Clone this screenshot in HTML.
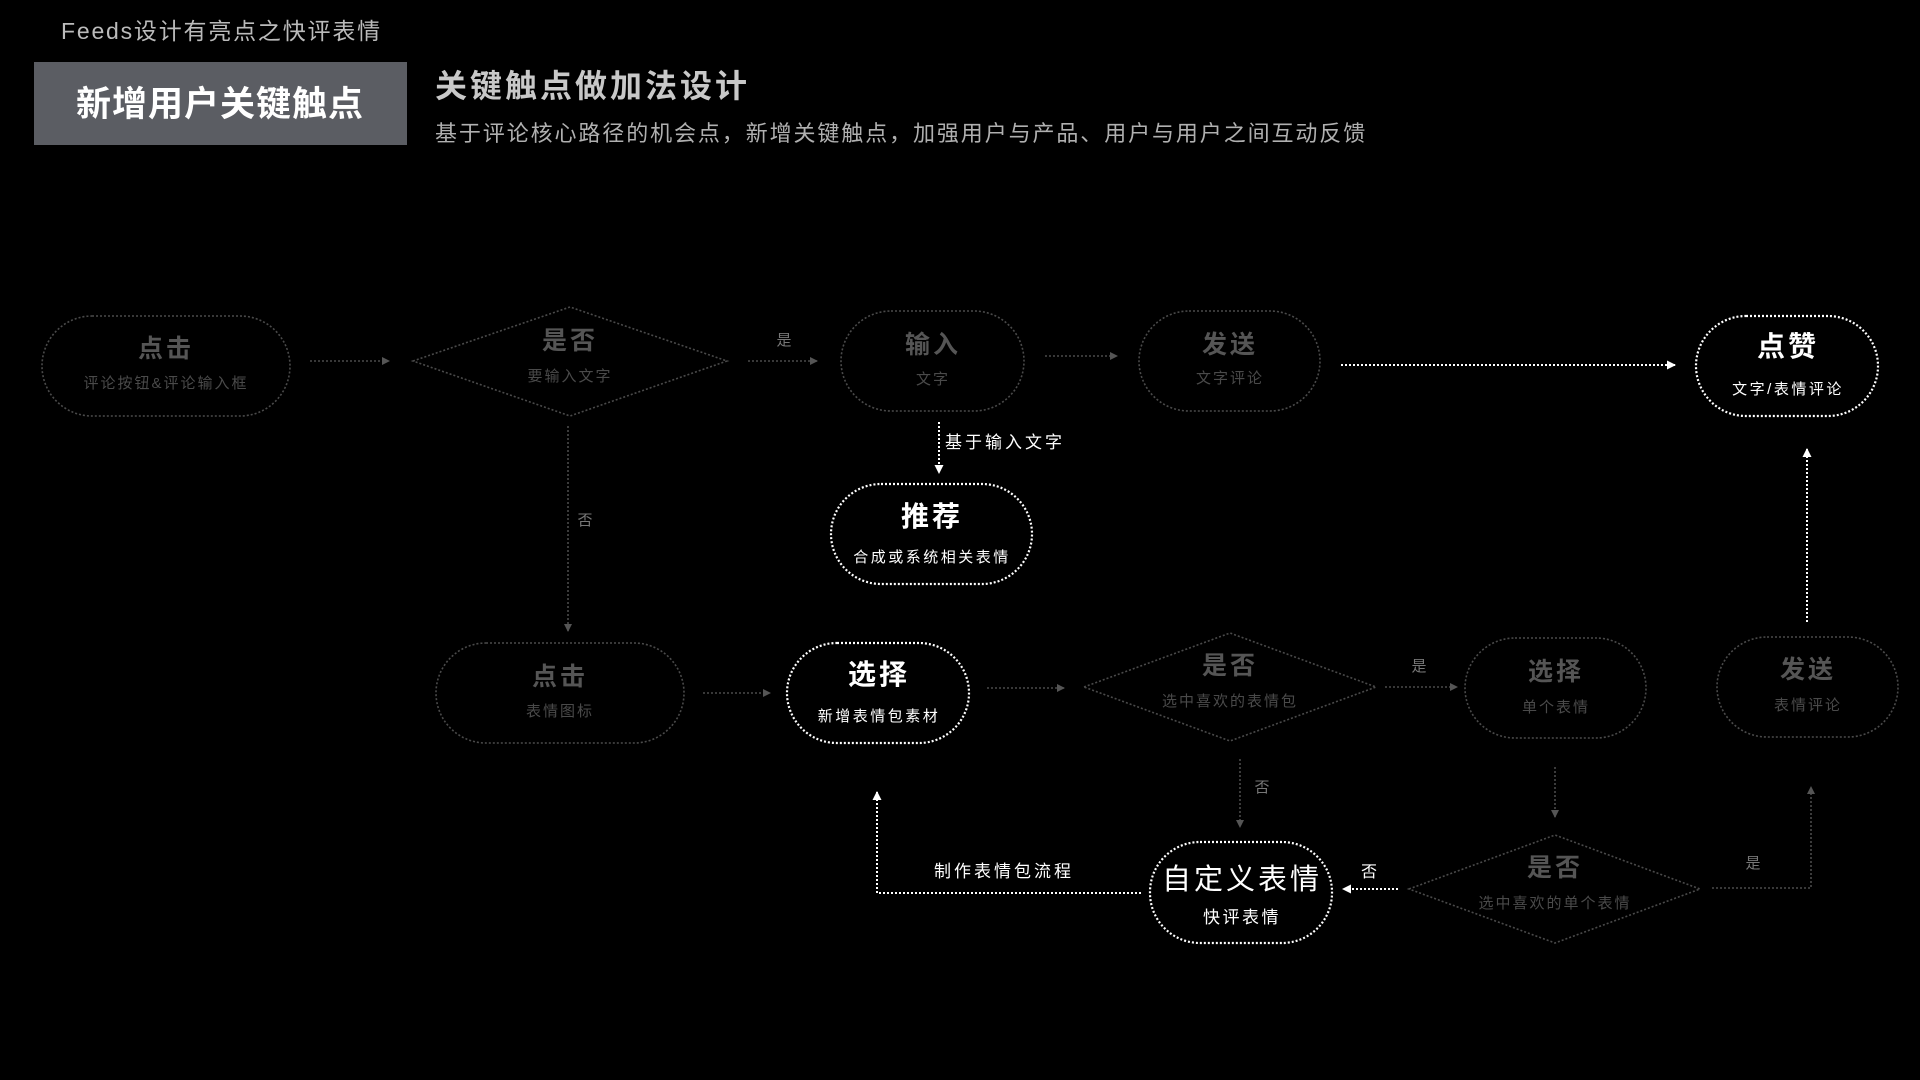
<!DOCTYPE html>
<html><head><meta charset="utf-8"><style>
html,body{margin:0;padding:0;background:#000;width:1920px;height:1080px;overflow:hidden}
svg{display:block}
text{font-family:"Liberation Sans","Noto Sans CJK SC",sans-serif}
</style></head><body>
<svg width="1920" height="1080" viewBox="0 0 1920 1080" xmlns="http://www.w3.org/2000/svg">
<defs>
<marker id="ad" markerWidth="8" markerHeight="8" refX="7" refY="4" orient="auto" markerUnits="userSpaceOnUse"><path d="M0,0 L8,4 L0,8z" fill="#555"/></marker>
<marker id="aw" markerWidth="9" markerHeight="9" refX="8" refY="4.5" orient="auto" markerUnits="userSpaceOnUse"><path d="M0,0 L9,4.5 L0,9z" fill="#fff"/></marker>
</defs>
<!-- header -->
<text x="61" y="39" font-size="23" fill="#bbb" letter-spacing="1.8">Feeds设计有亮点之快评表情</text>
<rect x="34" y="62" width="373" height="83" fill="#5b5d63"/>
<text x="220" y="116" font-size="35" font-weight="bold" fill="#fff" text-anchor="middle" letter-spacing="1">新增用户关键触点</text>
<text x="435" y="97" font-size="32" font-weight="bold" fill="#c8c8c8" letter-spacing="3">关键触点做加法设计</text>
<text x="435" y="141" font-size="22" fill="#b0b0b0" letter-spacing="1.9">基于评论核心路径的机会点，新增关键触点，加强用户与产品、用户与用户之间互动反馈</text>

<g fill="none" stroke="#4a4a4a" stroke-width="1.6" stroke-dasharray="2 2">
<rect x="42" y="316" width="248" height="100" rx="50"/>
<polygon points="413,361 570,307 727,361 570,416"/>
<rect x="841" y="311" width="183" height="100" rx="50"/>
<rect x="1139" y="311" width="181" height="100" rx="50"/>
<rect x="436" y="643" width="248" height="100" rx="50"/>
<polygon points="1084,687 1230,633 1376,687 1230,741"/>
<rect x="1465" y="638" width="181" height="100" rx="50"/>
<rect x="1717" y="637" width="181" height="100" rx="50"/>
<polygon points="1409,889 1555,835 1700,889 1555,943"/>
</g>
<g fill="none" stroke="#fff" stroke-width="2.2" stroke-dasharray="2 2">
<rect x="1696" y="316" width="182" height="100" rx="50"/>
<rect x="831" y="484" width="201" height="100" rx="50"/>
<rect x="787" y="643" width="182" height="100" rx="50"/>
<rect x="1150" y="842" width="182" height="101" rx="50"/>
</g>

<!-- dim connectors -->
<g fill="none" stroke="#4a4a4a" stroke-width="1.6" stroke-dasharray="2 2" marker-end="url(#ad)">
<line x1="310" y1="361" x2="389" y2="361"/>
<line x1="748" y1="361" x2="817" y2="361"/>
<line x1="1045" y1="356" x2="1117" y2="356"/>
<line x1="568" y1="426" x2="568" y2="631"/>
<line x1="703" y1="693" x2="770" y2="693"/>
<line x1="987" y1="688" x2="1064" y2="688"/>
<line x1="1385" y1="687" x2="1457" y2="687"/>
<line x1="1240" y1="759" x2="1240" y2="827"/>
<line x1="1555" y1="767" x2="1555" y2="817"/>
<polyline points="1712,888 1811,888 1811,787"/>
</g>
<!-- white connectors -->
<g fill="none" stroke="#fff" stroke-width="2" stroke-dasharray="2 2" marker-end="url(#aw)">
<line x1="1341" y1="365" x2="1675" y2="365"/>
<line x1="939" y1="422" x2="939" y2="473"/>
<line x1="1807" y1="622" x2="1807" y2="449"/>
<line x1="1398" y1="889" x2="1343" y2="889"/>
<polyline points="1141,893 877,893 877,792"/>
</g>

<!-- labels -->
<g font-size="15" fill="#777" text-anchor="middle">
<text x="784" y="345">是</text>
<text x="585" y="525">否</text>
<text x="1419" y="671">是</text>
<text x="1262" y="792">否</text>
<text x="1753" y="868">是</text>
</g>
<g font-size="17" fill="#fff" letter-spacing="3">
<text x="945" y="448">基于输入文字</text>
<text x="934" y="877">制作表情包流程</text>
<text x="1361" y="877" font-size="16">否</text>
</g>

<!-- dim node texts -->
<g text-anchor="middle" fill="#555" letter-spacing="3">
<g font-size="25" font-weight="bold">
<text x="166" y="357">点击</text>
<text x="570" y="349">是否</text>
<text x="933" y="353">输入</text>
<text x="1230" y="353">发送</text>
<text x="560" y="685">点击</text>
<text x="1230" y="674">是否</text>
<text x="1556" y="680">选择</text>
<text x="1808" y="678">发送</text>
<text x="1555" y="876">是否</text>
</g>
<g font-size="15" fill="#4a4a4a" letter-spacing="2">
<text x="166" y="388">评论按钮&amp;评论输入框</text>
<text x="570" y="381">要输入文字</text>
<text x="933" y="384">文字</text>
<text x="1230" y="383">文字评论</text>
<text x="560" y="716">表情图标</text>
<text x="1230" y="706">选中喜欢的表情包</text>
<text x="1556" y="712">单个表情</text>
<text x="1808" y="710">表情评论</text>
<text x="1555" y="908">选中喜欢的单个表情</text>
</g>
</g>
<!-- white node texts -->
<g text-anchor="middle" fill="#fff" letter-spacing="3">
<g font-size="28" font-weight="bold">
<text x="1788" y="356">点赞</text>
<text x="932" y="526">推荐</text>
<text x="879" y="684">选择</text>
<text x="1242" y="889" font-size="29" font-weight="normal">自定义表情</text>
</g>
<g font-size="15" letter-spacing="2.5">
<text x="1788" y="394">文字/表情评论</text>
<text x="932" y="562">合成或系统相关表情</text>
<text x="879" y="721">新增表情包素材</text>
<text x="1242" y="923" font-size="17">快评表情</text>
</g>
</g>
</svg>
</body></html>
